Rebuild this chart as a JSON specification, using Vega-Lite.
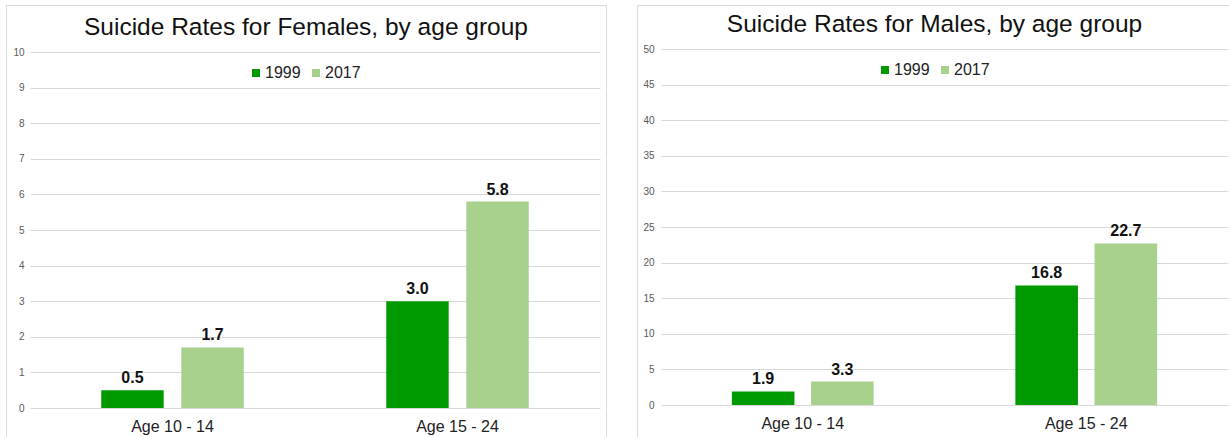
{
  "$schema": "https://vega.github.io/schema/vega-lite/v6.json",
  "padding": {"left": 5, "top": 4, "right": 0, "bottom": 0},
  "spacing": 29,
  "config": {
    "font": "Liberation Sans",
    "view": {"stroke": "#d9d9d9", "strokeWidth": 1}
  },
  "datasets": {
    "females": [
      {"age": "Age 10 - 14", "year": "1999", "rate": 0.5},
      {"age": "Age 10 - 14", "year": "2017", "rate": 1.7},
      {"age": "Age 15 - 24", "year": "1999", "rate": 3.0},
      {"age": "Age 15 - 24", "year": "2017", "rate": 5.8}
    ],
    "males": [
      {"age": "Age 10 - 14", "year": "1999", "rate": 1.9},
      {"age": "Age 10 - 14", "year": "2017", "rate": 3.3},
      {"age": "Age 15 - 24", "year": "1999", "rate": 16.8},
      {"age": "Age 15 - 24", "year": "2017", "rate": 22.7}
    ]
  },
  "resolve": {
    "scale": {"x": "independent", "y": "independent", "color": "independent", "xOffset": "independent"},
    "legend": {"color": "independent"}
  },
  "hconcat": [
    {
      "width": 600,
      "height": 433,
      "data": {"name": "females"},
      "title": {"text": "Suicide Rates for Females, by age group", "fontSize": 24.5, "fontWeight": "normal", "color": "#111111", "baseline": "alphabetic", "offset": 0, "dy": 54.5, "anchor": "middle"},
      "encoding": {
        "x": {"field": "age", "type": "nominal", "sort": null,
          "scale": {"range": [24, 594], "paddingInner": 0.5, "paddingOuter": 0.25},
          "axis": {"title": null, "ticks": false, "tickSize": 0, "domain": false, "grid": false, "labelAngle": 0, "labelFontSize": 16, "labelColor": "#222222", "labelBaseline": "alphabetic", "labelPadding": -7}},
        "xOffset": {"field": "year", "type": "nominal", "scale": {"paddingInner": 0.22}},
        "y": {"field": "rate", "type": "quantitative",
          "scale": {"domain": [0, 10], "nice": false, "range": [403, 47]},
          "axis": {"title": null, "ticks": false, "tickSize": 0, "domain": false, "grid": true, "gridColor": "#d9d9d9", "values": [0,1,2,3,4,5,6,7,8,9,10], "labelFontSize": 10, "labelColor": "#595959", "labelAlign": "right", "labelPadding": -18}}
      },
      "layer": [
        {
          "mark": {"type": "bar"},
          "encoding": {
            "color": {"field": "year", "type": "nominal",
              "scale": {"domain": ["1999", "2017"], "range": ["#009900", "#a9d18e"]},
              "legend": {"title": null, "orient": "none", "legendX": 242, "legendY": 60, "direction": "horizontal", "padding": 0, "symbolType": "square", "symbolSize": 64, "symbolStrokeWidth": 0, "labelFontSize": 16, "labelColor": "#222222", "labelOffset": 1, "columnPadding": 7}}
          }
        },
        {
          "mark": {"type": "text", "fontSize": 16, "fontWeight": "bold", "baseline": "alphabetic", "dy": -7, "color": "#111111"},
          "encoding": {"text": {"field": "rate", "type": "quantitative", "format": ".1f"}}
        }
      ]
    },
    {
      "width": 595,
      "height": 432,
      "data": {"name": "males"},
      "title": {"text": "Suicide Rates for Males, by age group", "fontSize": 24.5, "fontWeight": "normal", "color": "#111111", "baseline": "alphabetic", "offset": 0, "dy": 51, "anchor": "middle"},
      "encoding": {
        "x": {"field": "age", "type": "nominal", "sort": null,
          "scale": {"range": [24, 591], "paddingInner": 0.5, "paddingOuter": 0.25},
          "axis": {"title": null, "ticks": false, "tickSize": 0, "domain": false, "grid": false, "labelAngle": 0, "labelFontSize": 16, "labelColor": "#222222", "labelBaseline": "alphabetic", "labelPadding": -9}},
        "xOffset": {"field": "year", "type": "nominal", "scale": {"paddingInner": 0.21}},
        "y": {"field": "rate", "type": "quantitative",
          "scale": {"domain": [0, 50], "nice": false, "range": [400, 44]},
          "axis": {"title": null, "ticks": false, "tickSize": 0, "domain": false, "grid": true, "gridColor": "#d9d9d9", "values": [0,5,10,15,20,25,30,35,40,45,50], "labelFontSize": 10, "labelColor": "#595959", "labelAlign": "right", "labelPadding": -17}}
      },
      "layer": [
        {
          "mark": {"type": "bar"},
          "encoding": {
            "color": {"field": "year", "type": "nominal",
              "scale": {"domain": ["1999", "2017"], "range": ["#009900", "#a9d18e"]},
              "legend": {"title": null, "orient": "none", "legendX": 240, "legendY": 57, "direction": "horizontal", "padding": 0, "symbolType": "square", "symbolSize": 64, "symbolStrokeWidth": 0, "labelFontSize": 16, "labelColor": "#222222", "labelOffset": 1, "columnPadding": 7}}
          }
        },
        {
          "mark": {"type": "text", "fontSize": 16, "fontWeight": "bold", "baseline": "alphabetic", "dy": -7, "color": "#111111"},
          "encoding": {"text": {"field": "rate", "type": "quantitative", "format": ".1f"}}
        }
      ]
    }
  ]
}
